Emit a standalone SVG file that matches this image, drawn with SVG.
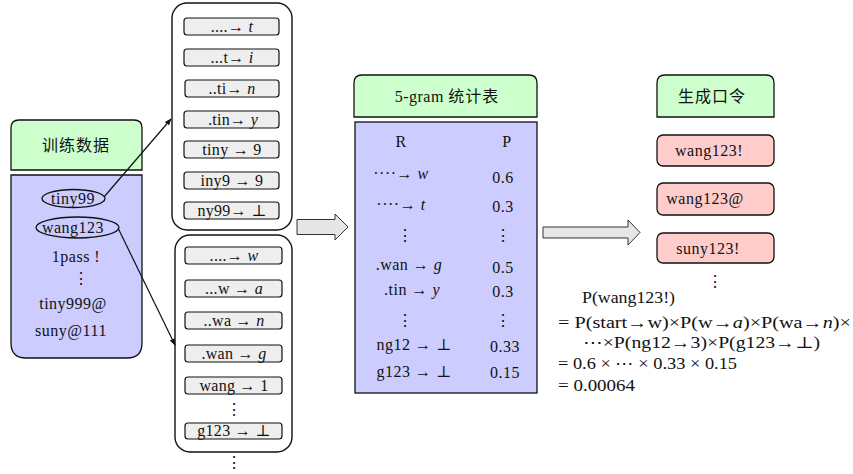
<svg xmlns="http://www.w3.org/2000/svg" width="853" height="474" viewBox="0 0 853 474">
  <style>
    .t15, .t14, .f15 { font-family: "Liberation Serif", "Times New Roman", "DejaVu Serif", serif; fill: #111; }
    .t15 { font-size: 16px; text-anchor: middle; letter-spacing: 0.5px; }
    .t14 { font-size: 16px; text-anchor: middle; letter-spacing: 0.3px; }
    .f15 { font-size: 16px; }
    .cjk { font-family: "Noto Sans CJK SC", sans-serif; font-size: 16px; text-anchor: middle; fill: #111; letter-spacing: 1px; }
    .zh { font-family: "Noto Sans CJK SC", sans-serif; font-size: 16px; letter-spacing: 1px; }
    .it { font-style: italic; }
    .green { fill: #ccffcc; stroke: #111; stroke-width: 1.3; }
    .blue { fill: #ccccff; stroke: #111; stroke-width: 1.3; }
    .pink { fill: #ffcccc; stroke: #111; stroke-width: 1.3; }
    .cell { fill: #eeeeee; stroke: #111; stroke-width: 1.2; }
    .frame { fill: #ffffff; stroke: #111; stroke-width: 1.4; }
    .ell { fill: none; stroke: #111; stroke-width: 1.3; }
    .link { fill: none; stroke: #111; stroke-width: 1.2; marker-end: url(#tip); }
    .block { fill: #e6e6e6; stroke: #333; stroke-width: 1; }
  </style>
  <defs>
    <marker id="tip" viewBox="0 0 10 10" refX="9" refY="5" markerWidth="7" markerHeight="7" orient="auto" markerUnits="userSpaceOnUse">
      <path d="M0,1 L10,5 L0,9 Z" fill="#111"/>
    </marker>
  </defs>

  <!-- training data -->
  <g id="training-data">
    <path class="green" d="M11,170 V128 Q11,120 19,120 H134 Q142,120 142,128 V170 Z"/>
    <text class="cjk" x="76" y="151">训练数据</text>
    <path class="blue" d="M11,175 H142 V343 Q142,358 127,358 H26 Q11,358 11,343 Z"/>
    <ellipse class="ell" cx="73.5" cy="198.5" rx="31.5" ry="9"/>
    <ellipse class="ell" cx="77.5" cy="227.5" rx="41.5" ry="10.5"/>
    <text class="t15" x="73" y="204">tiny99</text>
    <text class="t15" x="73" y="233">wang123</text>
    <text class="t15" x="76" y="262">1pass !</text>
    <text class="t15" x="81" y="284">⋮</text>
    <text class="t15" x="73" y="309">tiny999@</text>
    <text class="t15" x="71" y="336">suny@111</text>
  </g>

  <!-- 5-grams of tiny99 -->
  <g id="grams-tiny99">
    <rect class="frame" x="172" y="3" width="120" height="227" rx="15"/>
    <rect class="cell" x="184" y="18" width="95" height="17" rx="3"/>
    <rect class="cell" x="184" y="49" width="95" height="17" rx="3"/>
    <rect class="cell" x="185" y="80" width="94" height="17" rx="3"/>
    <rect class="cell" x="184" y="111" width="95" height="17" rx="3"/>
    <rect class="cell" x="184" y="141" width="95" height="17" rx="3"/>
    <rect class="cell" x="184" y="172" width="95" height="17" rx="3"/>
    <rect class="cell" x="184" y="202" width="95" height="17" rx="3"/>
    <text class="t14" x="232" y="32">....→ <tspan class="it">t</tspan></text>
    <text class="t14" x="232" y="63">...t→ <tspan class="it">i</tspan></text>
    <text class="t14" x="232" y="94">..ti→ <tspan class="it">n</tspan></text>
    <text class="t14" x="233" y="125">.tin→ <tspan class="it">y</tspan></text>
    <text class="t14" x="232" y="155">tiny → 9</text>
    <text class="t14" x="232" y="186">iny9 → 9</text>
    <text class="t14" x="232" y="216">ny99→ ⊥</text>
  </g>

  <!-- 5-grams of wang123 -->
  <g id="grams-wang123">
    <rect class="frame" x="175" y="235" width="117" height="217" rx="15"/>
    <rect class="cell" x="185" y="247" width="97" height="17" rx="3"/>
    <rect class="cell" x="185" y="280" width="97" height="17" rx="3"/>
    <rect class="cell" x="185" y="312" width="97" height="17" rx="3"/>
    <rect class="cell" x="185" y="345" width="97" height="17" rx="3"/>
    <rect class="cell" x="185" y="377" width="97" height="17" rx="3"/>
    <rect class="cell" x="185" y="423" width="97" height="16" rx="3"/>
    <text class="t14" x="234" y="261">....→ <tspan class="it">w</tspan></text>
    <text class="t14" x="234" y="294">...w → <tspan class="it">a</tspan></text>
    <text class="t14" x="234" y="326">..wa → <tspan class="it">n</tspan></text>
    <text class="t14" x="234" y="359">.wan → <tspan class="it">g</tspan></text>
    <text class="t14" x="234" y="391">wang → 1</text>
    <text class="t14" x="234" y="415">⋮</text>
    <text class="t14" x="234" y="436">g123 → ⊥</text>
    <text class="t14" x="234" y="468">⋮</text>
  </g>

  <!-- 5-gram table -->
  <g id="gram-table">
    <path class="green" d="M354,117 V83 Q354,75 362,75 H529 Q537,75 537,83 V117 Z"/>
    <text class="t15" x="447" y="102">5-gram <tspan class="zh">统计表</tspan></text>
    <rect class="blue" x="355" y="122" width="182" height="271"/>
    <text class="t15" x="401" y="147">R</text>
    <text class="t15" x="507" y="147">P</text>
    <text class="t15" x="401" y="179">····→ <tspan class="it">w</tspan></text>
    <text class="t15" x="503" y="183">0.6</text>
    <text class="t15" x="401" y="210">····→ <tspan class="it">t</tspan></text>
    <text class="t15" x="503" y="212">0.3</text>
    <text class="t15" x="405" y="241">⋮</text>
    <text class="t15" x="503" y="241">⋮</text>
    <text class="t15" x="409" y="270">.wan → <tspan class="it">g</tspan></text>
    <text class="t15" x="503" y="273">0.5</text>
    <text class="t15" x="412" y="295">.tin → <tspan class="it">y</tspan></text>
    <text class="t15" x="503" y="297">0.3</text>
    <text class="t15" x="405" y="326">⋮</text>
    <text class="t15" x="503" y="326">⋮</text>
    <text class="t15" x="414" y="350">ng12 → ⊥</text>
    <text class="t15" x="505" y="352">0.33</text>
    <text class="t15" x="414" y="377">g123 → ⊥</text>
    <text class="t15" x="505" y="378">0.15</text>
  </g>

  <!-- generated passwords -->
  <g id="generated">
    <path class="green" d="M657,117 V83 Q657,75 665,75 H766 Q774,75 774,83 V117 Z"/>
    <text class="cjk" x="712" y="102">生成口令</text>
    <rect class="pink" x="657" y="135" width="117" height="31" rx="6"/>
    <rect class="pink" x="657" y="183" width="117" height="32" rx="6"/>
    <rect class="pink" x="657" y="233" width="117" height="30" rx="6"/>
    <text class="t15" x="709" y="156">wang123!</text>
    <text class="t15" x="705" y="204">wang123@</text>
    <text class="t15" x="708" y="254">suny123!</text>
    <text class="t15" x="715" y="287">⋮</text>
  </g>

  <!-- probability of one guess -->
  <g id="formula">
    <text class="f15" x="582" y="303" textLength="93" lengthAdjust="spacingAndGlyphs">P(wang123!)</text>
    <text class="f15" x="558" y="328" textLength="293" lengthAdjust="spacingAndGlyphs">= P(start→w)×P(w→<tspan class="it">a</tspan>)×P(wa→<tspan class="it">n</tspan>)×</text>
    <text class="f15" x="583" y="348" textLength="237" lengthAdjust="spacingAndGlyphs">⋯×P(ng12→3)×P(g123→⊥)</text>
    <text class="f15" x="558" y="369" textLength="179" lengthAdjust="spacingAndGlyphs">= 0.6 × ⋯ × 0.33 × 0.15</text>
    <text class="f15" x="558" y="391" textLength="77" lengthAdjust="spacingAndGlyphs">= 0.00064</text>
  </g>

  <!-- connectors -->
  <g id="connectors">
    <line class="link" x1="104" y1="197" x2="171" y2="119"/>
    <line class="link" x1="118" y1="228" x2="175" y2="345"/>
    <polygon class="block" points="297,219.5 335,219.5 335,214 348,227 335,240 335,234.5 297,234.5"/>
    <polygon class="block" points="543,227 628,227 628,220 640,232.5 628,245 628,238 543,238"/>
  </g>
</svg>
